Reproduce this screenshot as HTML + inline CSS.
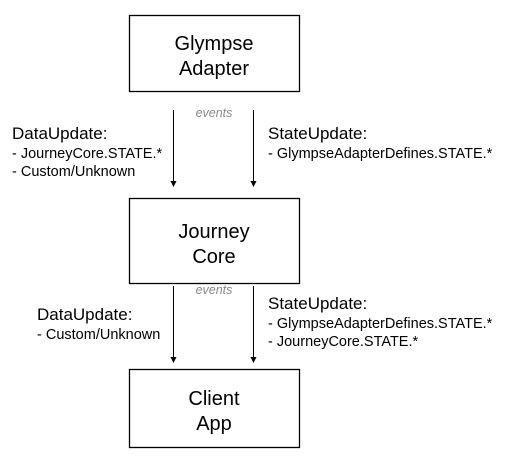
<!DOCTYPE html><html><head><style>
body{margin:0;background:#fff;width:505px;height:461px;overflow:hidden;font-family:"Liberation Sans",Arial,sans-serif}
</style></head><body>
<svg width="505" height="461" xmlns="http://www.w3.org/2000/svg" font-family="Liberation Sans, Arial, sans-serif">
<g fill="#fff" stroke="#000" stroke-width="1.3">
<rect x="129.5" y="15.5" width="170" height="76"/>
<rect x="129.5" y="198.5" width="170" height="85"/>
<rect x="129.5" y="369.5" width="170" height="78"/>
</g>
<g font-size="20" text-anchor="middle" fill="#000">
<text x="214" y="50">Glympse</text><text x="214" y="75">Adapter</text>
<text x="214" y="238">Journey</text><text x="214" y="263">Core</text>
<text x="214" y="405">Client</text><text x="214" y="430">App</text>
</g>
<g stroke="#000" stroke-width="1">
<line x1="173.5" y1="110" x2="173.5" y2="182"/>
<line x1="253.5" y1="110" x2="253.5" y2="182"/>
<line x1="173.5" y1="286" x2="173.5" y2="358"/>
<line x1="253.5" y1="286" x2="253.5" y2="358"/>
</g>
<g fill="#000">
<path d="M170.5,181 L176.5,181 L173.5,187 z"/>
<path d="M250.5,181 L256.5,181 L253.5,187 z"/>
<path d="M170.5,357 L176.5,357 L173.5,363 z"/>
<path d="M250.5,357 L256.5,357 L253.5,363 z"/>
</g>
<g font-size="12.5" font-style="italic" fill="#888" text-anchor="middle">
<text x="214" y="117">events</text><text x="214" y="294">events</text>
</g>
<g fill="#000">
<text x="12" y="139" font-size="17">DataUpdate:</text>
<text x="12" y="158" font-size="14.5">- JourneyCore.STATE.*</text>
<text x="12" y="176" font-size="14.5">- Custom/Unknown</text>
<text x="268" y="139" font-size="17">StateUpdate:</text>
<text x="268" y="158" font-size="14.5">- GlympseAdapterDefines.STATE.*</text>
<text x="37" y="320" font-size="17">DataUpdate:</text>
<text x="37" y="339" font-size="14.5">- Custom/Unknown</text>
<text x="268" y="309" font-size="17">StateUpdate:</text>
<text x="268" y="328" font-size="14.5">- GlympseAdapterDefines.STATE.*</text>
<text x="268" y="346" font-size="14.5">- JourneyCore.STATE.*</text>
</g>
</svg>
</body></html>
